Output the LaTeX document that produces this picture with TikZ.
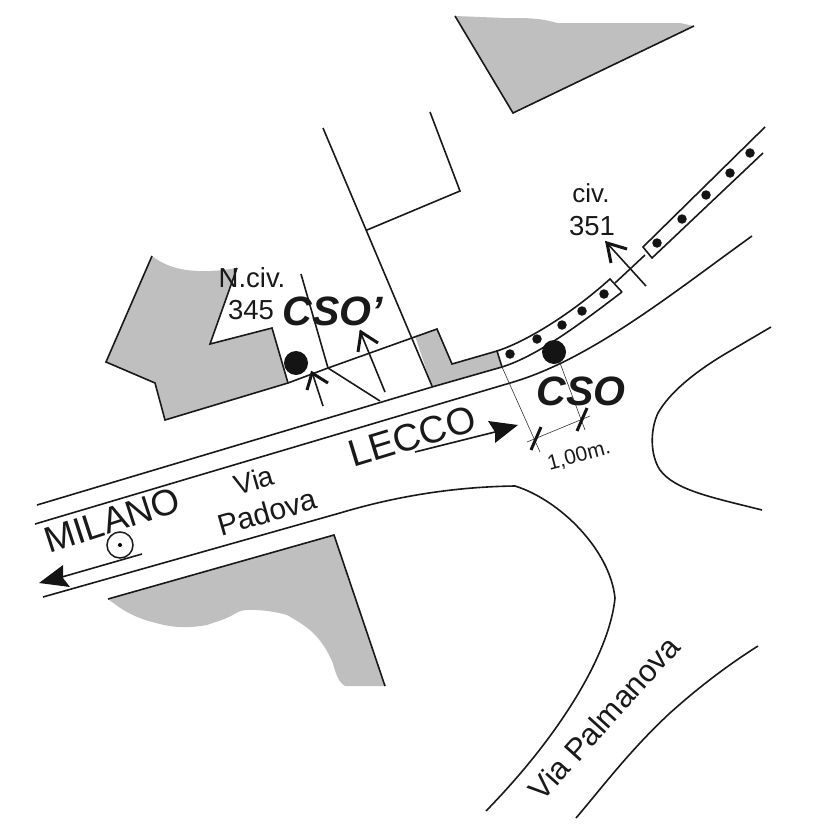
\documentclass[tikz,border=0pt]{standalone}
\usepackage{fontspec}
\setmainfont{Liberation Sans}
\tikzset{
 road/.style={draw=black!90,line width=1.6pt,line join=miter},
 thin line/.style={draw=black!80,line width=0.6pt},
 grey area/.style={fill=black!25,draw=none},
 bigdot/.style={circle,fill=black!92,draw=none,minimum size=24pt,inner sep=0pt},
 smalldot/.style={circle,fill=black!92,draw=none,minimum size=9.5pt,inner sep=0pt},
 lab/.style={inner sep=0pt,text=black!90,align=center},
 barb/.style={draw=black!92,line width=3pt},
 solidhead/.style={fill=black!92,draw=none},
}
\newcommand{\fs}[1]{\fontsize{#1pt}{#1pt}\selectfont}
\begin{document}
\begin{tikzpicture}[x=1pt,y=-1pt]
\useasboundingbox (0,0) rectangle (827,827);
% gray areas
\fill[grey area] (455,16) -- (513,113) -- (694,26) -- (680,23) -- (557,23) .. controls (540,18) and (530,18) .. (505,18) -- cycle;
\fill[grey area] (152,256) .. controls (170,270) and (195,275) .. (237,268) -- (210,344) -- (272,328) -- (288,383) -- (165,420) -- (155,383) -- (106,362) -- cycle;
\fill[grey area] (415,336) -- (437,329) -- (452,364) -- (497,351) -- (502,367) -- (432,387) -- cycle;
\fill[grey area] (108,599) -- (334,535) -- (385,686) -- (345,686) .. controls (335,680) and (335,665) .. (330,657) .. controls (322,640) and (312,632) .. (310,630) .. controls (300,622) and (292,618) .. (287,615) .. controls (270,610) and (245,608) .. (238,612) .. controls (225,620) and (215,622) .. (207,625) .. controls (190,628) and (175,628) .. (160,624) .. controls (135,618) and (125,612) .. cycle;
% outlines
\draw[road] (455,16) -- (513,113) -- (694,26);
\draw[road] (237,268) -- (210,344) -- (272,328) -- (288,383);
\draw[road] (152,256) -- (106,362) -- (155,383) -- (165,420) -- (288,383) -- (328,368) -- (437,329) -- (452,364) -- (497,351);
\draw[road] (108,599) -- (334,535) -- (385,686);
% streets
\draw[road] (37,505) -- (432,387) -- (502,367) .. controls (540,355) and (585,320) .. (622,292);
\draw[road] (502,367) -- (497,351) .. controls (525,342) and (570,315) .. (610,279) -- (622,292);
\draw[road] (763,153) -- (652,258) -- (643,247) -- (765,127);
\draw[road] (35,524) -- (510,383) .. controls (590,360) and (670,295) .. (752,236);
\draw[road] (43,597) -- (340,513) .. controls (380,501) and (440,487) .. (515,486) .. controls (560,500) and (610,550) .. (615,598) .. controls (610,650) and (565,730) .. (486,811);
\draw[road] (758,646) .. controls (720,670) and (690,695) .. (670,713) .. controls (630,750) and (600,790) .. (576,818);
\draw[road] (771,327) -- (725,354) .. controls (695,372) and (670,392) .. (658,413) .. controls (650,430) and (650,455) .. (660,470) .. controls (675,490) and (710,497) .. (762,510);
\draw[road] (323,128) -- (432,386) (430,112) -- (460,191) -- (367,230);
\draw[road] (301,274) -- (328,368) -- (380,401);
\draw[road] (615,283) -- (645,255);
\draw[road] (606,242) -- (646,286);
\draw[road] (323,406) -- (312,372);
\draw[road] (385,392) -- (360,331);
% arrow barbs
\draw[barb] (307,390) -- (312,373) -- (328,383);
\draw[barb] (358,352) -- (361,332) -- (378,343);
\draw[barb] (611,263) -- (607,243) -- (627,249);
% dimension
\draw[thin line] (502,367) -- (540,452) (560,363) -- (585,430) (527,442) -- (590,416);
\draw[barb] (531,450) -- (541,427) (577,431) -- (587,408);
% traffic arrows
\draw[road] (415,452) -- (495,432);
\fill[solidhead] (518,425) -- (488,421) -- (495,432) -- (495,443) -- cycle;
\draw[road] (142,554) -- (62,577);
\fill[solidhead] (39,583) -- (63,565) -- (63,578) -- (70,587) -- cycle;
\draw[line width=1.5pt,draw=black!90] (120,545) circle (13);
\fill[black] (120,545) circle (2);
% dots
\node[bigdot] (cso1) at (296,363) {};
\node[bigdot] (cso2) at (554,352) {};
\foreach \p/\n in {510/354,537/339,562/325,582/311,604/294,657/243,682/219,706/195,730/173,750/153}
  \node[smalldot] at (\p,\n) {};
% labels
\node[lab,font=\fs{27.5}] (n1) at (252,278) {N.civ.};
\node[lab,font=\fs{27.5}] (n2) at (251,310) {345};
\node[lab,font=\fs{41}\bfseries\itshape] (cp) at (333,311) {CSO’};
\node[lab,font=\fs{41}\bfseries\itshape] (c) at (581,391) {CSO};
\node[lab,font=\fs{26}] (civ) at (591,193) {civ.};
\node[lab,font=\fs{27.5}] (n3) at (592,226) {351};
\node[lab,font=\fs{21},rotate=15] (m) at (579,456) {1,00m.};
\node[lab,font=\fs{38},rotate=17] (l) at (412,436) {LECCO};
\node[lab,font=\fs{36.5},rotate=18] (mi) at (112,520) {MILANO};
\node[lab,font=\fs{28},rotate=16] (v) at (254,480) {Via};
\node[lab,font=\fs{30},rotate=16] (p) at (267,512) {Padova};
\node[lab,font=\fs{31},rotate=48] (vp) at (604,718) {Via Palmanova};
\end{tikzpicture}
\end{document}
